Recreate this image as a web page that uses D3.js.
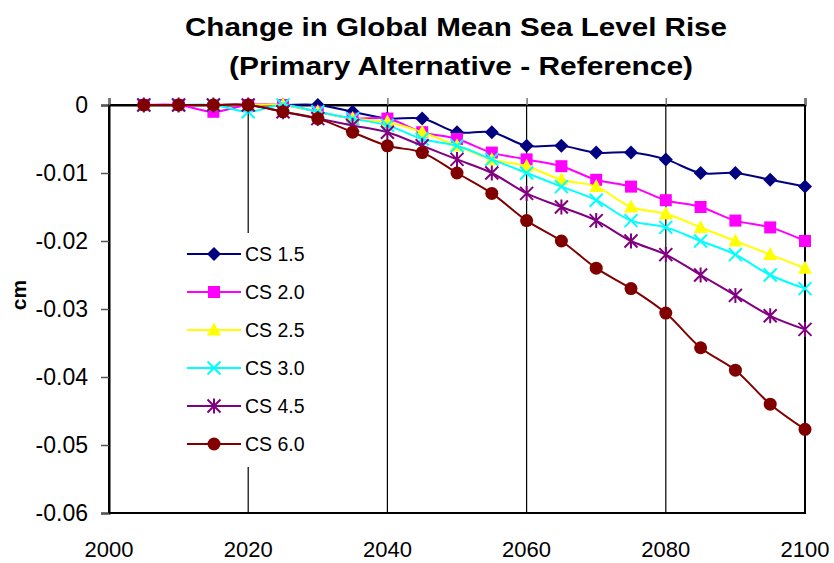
<!DOCTYPE html>
<html><head><meta charset="utf-8">
<script src="https://cdn.jsdelivr.net/npm/d3@7"></script>
<style>body{margin:0;background:#fff;}svg{display:block;font-family:"Liberation Sans",Arial,sans-serif;}</style>
</head><body>
<svg id="chart" width="834" height="563"></svg>
<script>
const years = [2005,2010,2015,2020,2025,2030,2035,2040,2045,2050,2055,2060,2065,2070,2075,2080,2085,2090,2095,2100];
const cs15 = [0,0,0,0,0,0,-0.001,-0.002,-0.002,-0.004,-0.004,-0.006,-0.006,-0.007,-0.007,-0.008,-0.010,-0.010,-0.011,-0.012];
const cs20 = [0,0,-0.001,0,0,-0.001,-0.002,-0.002,-0.004,-0.005,-0.007,-0.008,-0.009,-0.011,-0.012,-0.014,-0.015,-0.017,-0.018,-0.020];
const cs25 = [0,0,0,0,0,-0.001,-0.002,-0.0025,-0.004,-0.006,-0.008,-0.009,-0.011,-0.012,-0.015,-0.016,-0.018,-0.020,-0.022,-0.024];
const cs30 = [0,0,0,-0.001,0,-0.001,-0.002,-0.003,-0.005,-0.006,-0.008,-0.010,-0.012,-0.014,-0.017,-0.018,-0.020,-0.022,-0.025,-0.027];
const cs45 = [0,0,0,0,-0.001,-0.002,-0.003,-0.004,-0.006,-0.008,-0.010,-0.013,-0.015,-0.017,-0.020,-0.022,-0.025,-0.028,-0.031,-0.033];
const cs60 = [0,0,0,0,-0.001,-0.002,-0.004,-0.006,-0.007,-0.010,-0.013,-0.017,-0.020,-0.024,-0.027,-0.0306,-0.0357,-0.039,-0.044,-0.0477];
const seriesNames = ["CS 1.5","CS 2.0","CS 2.5","CS 3.0","CS 4.5","CS 6.0"];
const seriesValues = [cs15,cs20,cs25,cs30,cs45,cs60];
const seriesColors = ["#000080","#FF00FF","#FFFF00","#00FFFF","#800080","#800000"];
const seriesMarkers = ["diamond","square","triangle","x","star","circle"];
const xTicks = [2000,2020,2040,2060,2080,2100];
const yTicks = [0,-0.01,-0.02,-0.03,-0.04,-0.05,-0.06];
const titleLines = ["Change in Global Mean Sea Level Rise","(Primary Alternative - Reference)"];
const yLabel = "cm";

const svg = d3.select("#chart");
const L=109, R=805, T=105, B=513;
const x = d3.scaleLinear().domain([2000,2100]).range([L,R]);
const y = d3.scaleLinear().domain([-0.06,0]).range([B,T]);

// title
svg.append("text").attr("x",456).attr("y",36).attr("text-anchor","middle")
  .attr("font-size",25).attr("font-weight","bold").attr("textLength",542).attr("lengthAdjust","spacingAndGlyphs")
  .text(titleLines[0]);
svg.append("text").attr("x",461).attr("y",75).attr("text-anchor","middle")
  .attr("font-size",25).attr("font-weight","bold").attr("textLength",464).attr("lengthAdjust","spacingAndGlyphs")
  .text(titleLines[1]);

// gridlines (vertical)
svg.append("g").selectAll("line").data(xTicks.filter(d=>d>2000&&d<2100)).join("line")
  .attr("x1",d=>x(d)).attr("x2",d=>x(d)).attr("y1",T).attr("y2",B)
  .attr("stroke","#000").attr("stroke-width",1.2);

// plot border
svg.append("rect").attr("x",L).attr("y",T).attr("width",R-L).attr("height",B-T)
  .attr("fill","none").attr("stroke","#000").attr("stroke-width",2);

// y axis
const yAxis = d3.axisLeft(y).tickValues(yTicks).tickSize(8).tickPadding(13)
  .tickFormat(d=> d===0 ? "0" : d3.format(".2f")(d).replace("−","-"));
const gy = svg.append("g").attr("transform",`translate(${L},0)`).call(yAxis);
gy.select(".domain").attr("stroke","#000").attr("stroke-width",2);
gy.selectAll(".tick line").attr("stroke","#555").attr("stroke-width",1.5);
gy.selectAll("text").attr("font-size",23).attr("fill","#000").attr("font-family","Liberation Sans, Arial, sans-serif");

// x axis at y=0 with ticks upward, labels at bottom
const xAxis = d3.axisTop(x).tickValues(xTicks).tickSize(7).tickFormat("");
const gx = svg.append("g").attr("transform",`translate(0,${y(0)})`).call(xAxis);
gx.select(".domain").attr("stroke","#000").attr("stroke-width",2);
gx.selectAll(".tick line").attr("stroke","#777").attr("stroke-width",1.5);
svg.append("g").selectAll("text").data(xTicks).join("text")
  .attr("x",d=>x(d)).attr("y",557).attr("text-anchor","middle")
  .attr("font-size",22).text(d=>d);

// y label
svg.append("text").attr("transform","translate(26,295) rotate(-90)").attr("text-anchor","middle")
  .attr("font-size",21).attr("font-weight","bold").text(yLabel);

// markers
function drawMarker(g, type, color, cx, cy){
  if(type==="diamond"){
    g.append("path").attr("d",`M${cx},${cy-7}L${cx+7},${cy}L${cx},${cy+7}L${cx-7},${cy}Z`).attr("fill",color);
  } else if(type==="square"){
    g.append("rect").attr("x",cx-6).attr("y",cy-6).attr("width",12).attr("height",12).attr("fill",color);
  } else if(type==="triangle"){
    g.append("path").attr("d",`M${cx},${cy-7.5}L${cx+7},${cy+5.5}L${cx-7},${cy+5.5}Z`).attr("fill",color);
  } else if(type==="x"){
    g.append("path").attr("d",`M${cx-6.5},${cy-6.5}L${cx+6.5},${cy+6.5}M${cx-6.5},${cy+6.5}L${cx+6.5},${cy-6.5}`).attr("stroke",color).attr("stroke-width",2).attr("fill","none");
  } else if(type==="star"){
    g.append("path").attr("d",`M${cx-6.5},${cy-6.5}L${cx+6.5},${cy+6.5}M${cx-6.5},${cy+6.5}L${cx+6.5},${cy-6.5}M${cx},${cy-7.5}L${cx},${cy+7.5}`).attr("stroke",color).attr("stroke-width",2).attr("fill","none");
  } else {
    g.append("circle").attr("cx",cx).attr("cy",cy).attr("r",6.5).attr("fill",color);
  }
}

const line = d3.line().x((d,i)=>x(years[i])).y(d=>y(d)).curve(d3.curveCatmullRom.alpha(0.5));
seriesValues.forEach((vals,si)=>{
  const g = svg.append("g");
  g.append("path").datum(vals).attr("d",line).attr("fill","none")
    .attr("stroke",seriesColors[si]).attr("stroke-width",2);
  vals.forEach((v,i)=>drawMarker(g, seriesMarkers[si], seriesColors[si], x(years[i]), y(v)));
});

// legend
const lg = svg.append("g");
lg.append("rect").attr("x",183).attr("y",233).attr("width",130).attr("height",234).attr("fill","#fff");
const legendY = d3.scaleLinear().domain([0,5]).range([254,444]);
seriesNames.forEach((n,i)=>{
  const yy = legendY(i);
  lg.append("line").attr("x1",187).attr("x2",241).attr("y1",yy).attr("y2",yy).attr("stroke",seriesColors[i]).attr("stroke-width",2);
  drawMarker(lg, seriesMarkers[i], seriesColors[i], 214, yy);
  lg.append("text").attr("x",245).attr("y",yy+7).attr("font-size",19.5).text(n);
});
</script>
</body></html>
